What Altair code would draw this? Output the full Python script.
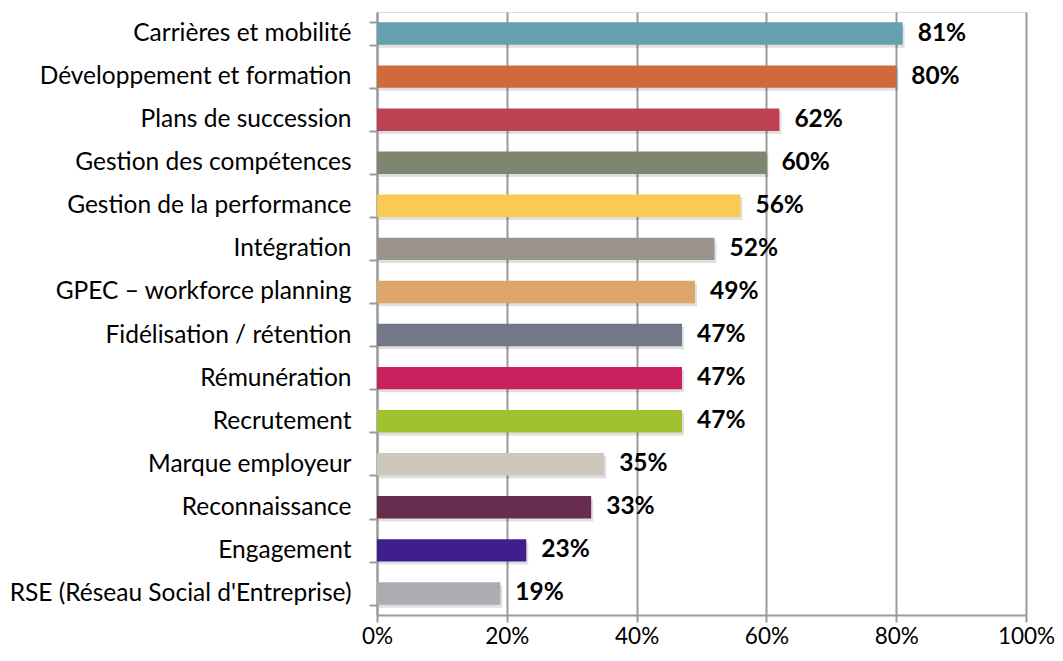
import altair as alt
import pandas as pd

categories = [
    "Carrières et mobilité", "Développement et formation", "Plans de succession",
    "Gestion des compétences", "Gestion de la performance", "Intégration",
    "GPEC – workforce planning", "Fidélisation / rétention", "Rémunération",
    "Recrutement", "Marque employeur", "Reconnaissance", "Engagement",
    "RSE (Réseau Social d'Entreprise)",
]
values = [0.81, 0.80, 0.62, 0.60, 0.56, 0.52, 0.49, 0.47, 0.47, 0.47, 0.35, 0.33, 0.23, 0.19]
colors = [
    "#65A0AF", "#D0693C", "#BE4053", "#7F8670", "#F9CB55", "#9A948A", "#DEA66A",
    "#737888", "#C8215F", "#A0C22F", "#CEC8BC", "#672C4E", "#401E8C", "#ABADB2",
]

df = pd.DataFrame({"cat": categories, "val": values, "color": colors})

FONT = "Lato"

y_scale = alt.Scale(paddingInner=0.48, paddingOuter=0.24)
y_enc = alt.Y(
    "cat:N", sort=categories, title=None, scale=y_scale,
    axis=alt.Axis(
        labelFont=FONT, labelFontSize=24.5, labelColor="#000000", labelPadding=18,
        domainColor="#9a9a9a", domainWidth=2, tickColor="#9a9a9a", tickWidth=2,
        tickSize=8, tickBand="extent", labelLimit=400,
    ),
)
x_enc = alt.X(
    "val:Q", title=None,
    scale=alt.Scale(domain=[0, 1], nice=False),
    axis=alt.Axis(
        format=".0%", values=[0, 0.2, 0.4, 0.6, 0.8, 1.0], labelFlush=False,
        labelFont=FONT, labelFontSize=22.5, labelColor="#000000", labelPadding=3,
        domainColor="#9a9a9a", domainWidth=2, tickColor="#9a9a9a", tickWidth=2,
        tickSize=7, grid=True, gridColor="#9a9a9a", gridWidth=2,
    ),
)

shadow = alt.Chart(df).mark_bar(color="#000000", opacity=0.12, xOffset=2, yOffset=3).encode(
    x=x_enc, y=y_enc,
)
bars = alt.Chart(df).mark_bar().encode(
    x="val:Q", y=alt.Y("cat:N", sort=categories), color=alt.Color("color:N", scale=None),
)
labels = alt.Chart(df).mark_text(
    align="left", baseline="middle", dx=15, font=FONT, fontSize=24.5,
    fontWeight="bold", color="#000000",
).encode(
    x="val:Q", y=alt.Y("cat:N", sort=categories), text=alt.Text("val:Q", format=".0%"),
)

chart = (shadow + bars + labels).properties(
    width=649, height=603,
    autosize=alt.AutoSizeParams(type="none"),
    padding={"left": 369, "top": 4, "right": 29, "bottom": 38},
).configure_view(stroke=None).configure(background="#ffffff")

chart.save("out.html", embed_options={"renderer": "svg", "actions": False})
